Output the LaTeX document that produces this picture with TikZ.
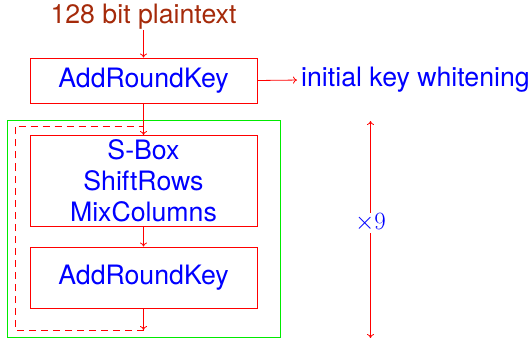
\documentclass[tikz,border=0pt]{standalone}
\usepackage{fontspec}
\setmainfont{TeX Gyre Heros}
\usetikzlibrary{arrows.meta}
\definecolor{brn}{RGB}{165,42,10}
\definecolor{grn}{RGB}{0,235,0}
\begin{document}
\begin{tikzpicture}[x=1pt,y=-1pt,
  txt/.style={font=\fontsize{26.7}{31}\selectfont, text=blue, inner sep=0pt},
  box/.style={draw=red, line width=0.9pt, minimum width=227pt, inner sep=0pt, txt},
  con/.style={draw=red, line width=0.8pt, -{To[length=4pt,width=7pt]}},
  ]
\useasboundingbox (0,0) rectangle (532,339);
\node[txt, text=brn] (pt) at (143.5,17) {128 bit plaintext};
\node[box, minimum height=45pt] (k0) at (143.5,80.5) {AddRoundKey};
\node[txt, anchor=west] (iw) at (301,80) {initial key whitening};
\draw[draw=grn, line width=0.9pt] (7,120.5) rectangle (280,337.5);
\node[box, minimum height=91pt, align=center] (sb) at (143.5,181) {S-Box\\ShiftRows\\MixColumns};
\node[box, minimum height=61pt] (k1) at (143.5,277.5) {AddRoundKey};
\path (143.5,134) coordinate (sbn) (143.5,225) coordinate (sbs);
\coordinate (b) at (143.5,330);
\coordinate (t) at (143.5,126);
\coordinate (u) at (370.5,121);
\coordinate (d) at (370.5,338);
\node[inner sep=1pt, text=blue, font=\fontsize{26}{30}\selectfont] (x9) at (370.5,223) {$\times 9$};
\draw[con] (pt) -- (k0);
\draw[con, shorten >=4pt] (k0.east) -- (iw.west);
\draw[con] (k0) -- (sb.north);
\draw[con] (sb.south) -- (k1);
\draw[con] (k1) -- (b);
\draw[draw=red, line width=0.8pt, dash pattern=on 7pt off 5pt] (b) -- (15,330) -- (15,126) -- (t);
\draw[con] (x9) -- (u);
\draw[con] (x9) -- (d);
\end{tikzpicture}
\end{document}
